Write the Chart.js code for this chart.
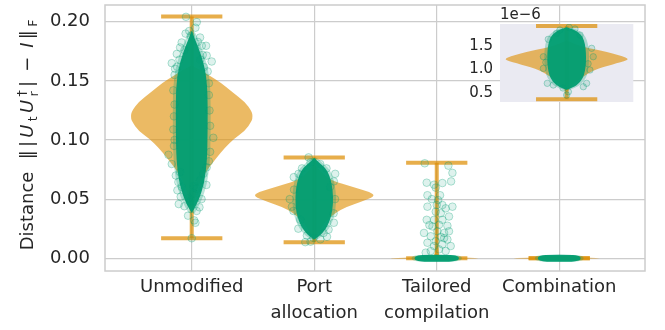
<!DOCTYPE html>
<html>
<head>
<meta charset="utf-8">
<script src="https://cdn.jsdelivr.net/npm/chart.js@4.4.1/dist/chart.umd.min.js"></script>
<style>
  html, body { margin: 0; padding: 0; background: #fff; }
  #wrap { position: relative; width: 665px; height: 330px; }
  #main { position: absolute; left: 0; top: 0; }
  #inset { position: absolute; left: 440px; top: 0; }
</style>
</head>
<body>
<div id="wrap">
  <canvas id="main" width="665" height="330"></canvas>
  <canvas id="inset" width="225" height="110"></canvas>
</div>
<script>
// categories and summary values
const categories = [["Unmodified"], ["Port", "allocation"], ["Tailored", "compilation"], ["Combination"]];
const whiskerLow = [0.0169, 0.0136, 0.0, 0.0];
const whiskerHigh = [0.2044, 0.0853, 0.0808, 0.0];
const yTicks = [0, 0.05, 0.1, 0.15, 0.2];

// violin outlines: [value, half width in category units]
const violinUnmodified = [[0.0367, 0], [0.045, 0.016], [0.0575, 0.041], [0.0675, 0.082], [0.0767, 0.139], [0.085, 0.204], [0.0933, 0.269], [0.1008, 0.343], [0.1075, 0.433], [0.1158, 0.49], [0.12, 0.498], [0.1242, 0.49], [0.1325, 0.433], [0.1408, 0.327], [0.1492, 0.229], [0.1533, 0.163], [0.1575, 0.098], [0.1633, 0]];
const violinPort = [[0.0133, 0], [0.0217, 0.035], [0.03, 0.08], [0.0383, 0.17], [0.0433, 0.26], [0.0475, 0.38], [0.0525, 0.498], [0.0558, 0.46], [0.06, 0.32], [0.0658, 0.14], [0.0717, 0.065], [0.0767, 0.025], [0.08, 0]];
const violinTailored = [[-0.0009, 0], [0, 0.5], [0.0009, 0.03], [0.005, 0.01], [0.03, 0.004], [0.08, 0]];
const violinCombination = [[-0.0008, 0], [0, 0.5], [0.0008, 0]];

// dense centre of the jittered points: [value, half width]
const coreUnmodified = [[0.0383, 0], [0.0433, 0.03], [0.0492, 0.055], [0.0558, 0.08], [0.0658, 0.105], [0.0825, 0.125], [0.1075, 0.13], [0.1367, 0.13], [0.1533, 0.12], [0.1658, 0.095], [0.1783, 0.055], [0.1842, 0.03], [0.1925, 0]];
const corePort = [[0.0158, 0], [0.0192, 0.05], [0.0242, 0.09], [0.0308, 0.125], [0.0408, 0.15], [0.0517, 0.155], [0.0617, 0.145], [0.07, 0.125], [0.0767, 0.09], [0.0808, 0.04], [0.085, 0]];
const coreTailored = [[-0.003, 0.1], [-0.0022, 0.17], [0, 0.185], [0.0022, 0.17], [0.003, 0.1]];
const coreCombination = [[-0.003, 0.1], [-0.0022, 0.165], [0, 0.178], [0.0022, 0.165], [0.003, 0.1]];

// loose points: [jitter offset, value]
const pointsUnmodified = [[-0.047, 0.2042], [0.041, 0.1997], [-0.02, 0.1922], [-0.008, 0.188], [0.068, 0.1867], [-0.082, 0.1825], [0.082, 0.1797], [-0.095, 0.1783], [0.117, 0.1797], [-0.122, 0.1728], [0.122, 0.1714], [-0.163, 0.165], [0.163, 0.1664], [-0.136, 0.1603], [0.1, 0.1617], [-0.15, 0.1089], [0.176, 0.1019], [-0.19, 0.0875], [-0.163, 0.0797], [0.122, 0.0769], [-0.095, 0.0728], [0.095, 0.0714], [-0.109, 0.0644], [0.068, 0.0658], [-0.082, 0.0603], [0.041, 0.0589], [-0.117, 0.0575], [0.014, 0.0547], [-0.027, 0.0506], [0.063, 0.0431], [-0.106, 0.0458], [-0.014, 0.0478], [0, 0.0169], [-0.14, 0.13], [0.145, 0.125], [-0.15, 0.142], [0.14, 0.148], [-0.145, 0.095], [0.15, 0.09], [0.03, 0.195], [-0.05, 0.19], [0.05, 0.183], [-0.06, 0.176], [0.09, 0.172], [-0.1, 0.168], [0.07, 0.168], [-0.12, 0.162], [0.13, 0.158], [-0.14, 0.155], [0.14, 0.138], [-0.145, 0.12], [0.15, 0.112], [-0.14, 0.1], [0.14, 0.082], [-0.13, 0.07], [0.12, 0.062], [-0.09, 0.052], [0.08, 0.05], [-0.06, 0.044], [0.04, 0.04], [-0.03, 0.036], [0.02, 0.032], [0.03, 0.03], [0.015, 0.061]];
const pointsPort = [[-0.046, 0.0853], [-0.167, 0.0686], [0.171, 0.0714], [-0.2, 0.05], [0.13, 0.0603], [-0.114, 0.0325], [0.117, 0.0242], [-0.06, 0.0192], [0.104, 0.0181], [-0.073, 0.0136], [-0.006, 0.0172], [0.076, 0.0214], [-0.128, 0.0714], [0.049, 0.0797], [-0.03, 0.0811], [0.158, 0.038], [-0.182, 0.0436], [0.17, 0.05], [-0.165, 0.058], [0.1, 0.076], [-0.1, 0.076], [0.16, 0.065], [-0.17, 0.04], [0.16, 0.03], [-0.13, 0.025], [0.05, 0.016], [-0.03, 0.014]];
const pointsTailored = [[-0.098, 0.0803], [0.095, 0.0783], [0.128, 0.0722], [-0.082, 0.0639], [0.046, 0.0636], [0.117, 0.065], [-0.022, 0.0622], [-0.008, 0.0597], [-0.076, 0.0533], [0.027, 0.0533], [0.011, 0.0492], [0.046, 0.045], [0.128, 0.0436], [-0.076, 0.0436], [0.073, 0.0422], [-0.008, 0.0394], [0.033, 0.0381], [0.1, 0.0353], [-0.082, 0.0325], [-0.022, 0.0325], [0.046, 0.0325], [0.019, 0.0283], [0.087, 0.0275], [-0.035, 0.0269], [-0.104, 0.0214], [0.005, 0.0228], [0.06, 0.0214], [0.1, 0.0228], [-0.049, 0.0186], [0.033, 0.0181], [-0.008, 0.0144], [0.087, 0.0158], [-0.076, 0.0131], [0.046, 0.0117], [-0.022, 0.0103], [0.114, 0.0103], [0.019, 0.0075], [-0.049, 0.0061], [0.073, 0.0061], [-0.09, 0.0047], [0.06, 0.017], [-0.06, 0.028], [0, 0.045], [-0.04, 0.05]];
const pointsCombination = [];

// inset (values in units of 1e-6)
const insetWhisker = [0.357, 1.93];
const insetTicks = [0.5, 1.0, 1.5];
const insetViolin = [[0.5, 0], [0.6, 0.025], [0.7, 0.06], [0.8, 0.11], [0.914, 0.177], [1.021, 0.259], [1.07, 0.33], [1.129, 0.408], [1.17, 0.47], [1.214, 0.504], [1.25, 0.485], [1.306, 0.422], [1.377, 0.327], [1.42, 0.24], [1.48, 0.13], [1.55, 0.06], [1.62, 0]];
const insetCore = [[0.56, 0], [0.62, 0.06], [0.7, 0.1], [0.8, 0.13], [0.95, 0.15], [1.15, 0.158], [1.35, 0.158], [1.55, 0.15], [1.7, 0.13], [1.78, 0.1], [1.85, 0.06], [1.9, 0]];
const insetPoints = [[-0.15, 1.643], [-0.19, 1.27], [0.217, 1.27], [0.204, 1.45], [-0.158, 0.7], [-0.109, 0.664], [0.163, 0.7], [0.136, 0.627], [0, 0.449], [-0.055, 1.842], [0.068, 1.864], [0.109, 1.735], [-0.082, 1.771], [0.014, 0.52], [-0.19, 1.02], [0.19, 0.985], [-0.17, 1.15], [0.175, 1.12], [0.02, 1.9], [-0.03, 0.6]];

const TEXT = "#262626";
const GRID = "#cccccc";
const VIOLIN = "rgba(222, 143, 5, 0.62)";
const WHISKER = "rgba(222, 143, 5, 0.72)";
const CORE = "rgba(2, 158, 115, 0.96)";
const HALO = "rgba(2, 158, 115, 0.28)";
const FONT = "DejaVu Sans";

function shapePath(ctx, xs, ys, center, profile, grow = 0) {
  // right side going up, left side coming back down
  const right = profile.map(([v, w]) => [xs.getPixelForValue(center + w) + grow, ys.getPixelForValue(v)]);
  const left = profile.slice().reverse().map(([v, w]) => [xs.getPixelForValue(center - w) - grow, ys.getPixelForValue(v)]);
  const pts = right.concat(left);
  ctx.beginPath();
  ctx.moveTo(pts[0][0], pts[0][1]);
  for (let i = 1; i < pts.length - 1; i++) {
    const mx = (pts[i][0] + pts[i + 1][0]) / 2;
    const my = (pts[i][1] + pts[i + 1][1]) / 2;
    ctx.quadraticCurveTo(pts[i][0], pts[i][1], mx, my);
  }
  ctx.lineTo(pts[pts.length - 1][0], pts[pts.length - 1][1]);
  ctx.closePath();
}

function drawGroups(chart, groups) {
  const { ctx, chartArea } = chart;
  const xs = chart.scales.x;
  const ys = chart.scales.y;
  ctx.save();
  ctx.beginPath();
  ctx.rect(chartArea.left, chartArea.top, chartArea.right - chartArea.left, chartArea.bottom - chartArea.top);
  ctx.clip();
  groups.forEach((g) => {
    ctx.fillStyle = VIOLIN;
    shapePath(ctx, xs, ys, g.center, g.violin);
    ctx.fill();
  });
  groups.forEach((g) => {
    const cx = xs.getPixelForValue(g.center);
    ctx.strokeStyle = WHISKER;
    ctx.lineWidth = 4;
    ctx.beginPath();
    ctx.moveTo(cx, ys.getPixelForValue(g.low));
    ctx.lineTo(cx, ys.getPixelForValue(g.high));
    ctx.stroke();
    [g.low, g.high].forEach((v) => {
      const y = ys.getPixelForValue(v);
      ctx.beginPath();
      ctx.moveTo(xs.getPixelForValue(g.center - 0.25), y);
      ctx.lineTo(xs.getPixelForValue(g.center + 0.25), y);
      ctx.stroke();
    });
  });
  groups.forEach((g) => {
    ctx.fillStyle = HALO;
    shapePath(ctx, xs, ys, g.center, g.core, 3);
    ctx.fill();
    ctx.fillStyle = CORE;
    shapePath(ctx, xs, ys, g.center, g.core);
    ctx.fill();
  });
  ctx.restore();
}

const mainGroups = categories.map((c, i) => ({
  center: i,
  low: whiskerLow[i],
  high: whiskerHigh[i],
  violin: [violinUnmodified, violinPort, violinTailored, violinCombination][i],
  core: [coreUnmodified, corePort, coreTailored, coreCombination][i]
}));
const mainPoints = [pointsUnmodified, pointsPort, pointsTailored, pointsCombination];

const violinLayer = {
  id: "violinLayer",
  beforeDatasetsDraw(chart, _args, opts) {
    drawGroups(chart, opts.groups);
  }
};

const frameLayer = {
  id: "frameLayer",
  afterDatasetsDraw(chart, _args, opts) {
    const { ctx, chartArea } = chart;
    if (!opts.color) return;
    ctx.save();
    ctx.strokeStyle = opts.color;
    ctx.lineWidth = 1.5;
    ctx.strokeRect(chartArea.left, chartArea.top, chartArea.right - chartArea.left, chartArea.bottom - chartArea.top);
    ctx.restore();
  }
};

const insetBackground = {
  id: "insetBackground",
  beforeDraw(chart) {
    const { ctx, chartArea } = chart;
    ctx.save();
    ctx.fillStyle = "#eaeaf2";
    ctx.fillRect(chartArea.left, chartArea.top, chartArea.right - chartArea.left, chartArea.bottom - chartArea.top);
    ctx.fillStyle = TEXT;
    ctx.font = `15px "${FONT}"`;
    ctx.textBaseline = "alphabetic";
    ctx.textAlign = "left";
    ctx.fillText("1e\u22126", chartArea.left, chartArea.top - 5);
    ctx.restore();
  }
};

const yTitle = {
  id: "yTitle",
  afterDraw(chart) {
    const { ctx } = chart;
    const big = 18, small = 12.5, gap = 3.3;
    const parts = [
      { t: "Distance", f: `${big}px "${FONT}"`, dy: 0 },
      { t: " ", f: `${big}px "${FONT}"`, dy: 0 },
      { t: "\u2016", f: `${big}px "${FONT}"`, dy: 0 },
      { t: "|", f: `${big}px "${FONT}"`, dy: 0 },
      { t: "U", f: `italic ${big}px "${FONT}"`, dy: 0 },
      { t: "t", f: `${small}px "${FONT}"`, dy: 4 },
      { t: "U", f: `italic ${big}px "${FONT}"`, dy: 0 },
      { t: "\u2020", f: `${small}px "${FONT}"`, dy: -7, sub: "r" },
      { t: "|", f: `${big}px "${FONT}"`, dy: 0 },
      { t: " \u2212 ", f: `${big}px "${FONT}"`, dy: 0 },
      { t: "I", f: `italic ${big}px "${FONT}"`, dy: 0 },
      { t: "\u2016", f: `${big}px "${FONT}"`, dy: 0 },
      { t: "F", f: `${small}px "${FONT}"`, dy: 4 }
    ];
    ctx.save();
    let total = 0;
    parts.forEach((p, i) => {
      ctx.font = p.f;
      p.w = ctx.measureText(p.t).width;
      if (p.sub) p.w = Math.max(p.w, ctx.measureText(p.sub).width);
      p.g = i === 0 ? 0 : gap;
      total += p.w + p.g;
    });
    ctx.translate(33, 135);
    ctx.rotate(-Math.PI / 2);
    ctx.fillStyle = TEXT;
    ctx.textBaseline = "alphabetic";
    ctx.textAlign = "left";
    let u = -total / 2;
    parts.forEach((p) => {
      u += p.g;
      ctx.font = p.f;
      ctx.fillText(p.t, u, p.dy);
      if (p.sub) ctx.fillText(p.sub, u, 5);
      u += p.w;
    });
    ctx.restore();
  }
};

function noPadding(axis) {
  axis.paddingTop = 0;
  axis.paddingBottom = 0;
  axis.paddingLeft = 0;
  axis.paddingRight = 0;
}

new Chart(document.getElementById("main"), {
  type: "scatter",
  data: {
    datasets: mainPoints.map((pts, i) => ({
      data: pts.map(([o, v]) => ({ x: i + o, y: v })),
      pointRadius: 3.8,
      pointBackgroundColor: "rgba(2, 158, 115, 0.13)",
      pointBorderColor: "rgba(2, 158, 115, 0.3)",
      pointBorderWidth: 1
    }))
  },
  plugins: [violinLayer, frameLayer, yTitle],
  options: {
    responsive: false,
    animation: false,
    devicePixelRatio: 1,
    layout: { padding: { top: 2, right: 20, left: 0, bottom: 0 } },
    plugins: {
      legend: { display: false },
      tooltip: { enabled: false },
      violinLayer: { groups: mainGroups },
      frameLayer: { color: GRID }
    },
    scales: {
      x: {
        type: "linear",
        min: -0.708,
        max: 3.7,
        afterBuildTicks: (axis) => { axis.ticks = categories.map((_c, i) => ({ value: i })); },
        afterFit: (axis) => { axis.height = 59; noPadding(axis); },
        ticks: {
          color: TEXT,
          padding: 3,
          maxRotation: 0,
          autoSkip: false,
          font: { family: FONT, size: 18, lineHeight: 1.45 },
          callback: (value) => categories[value]
        },
        grid: { color: GRID, lineWidth: 1.2, drawTicks: false },
        border: { display: false }
      },
      y: {
        min: -0.0108,
        max: 0.2142,
        afterBuildTicks: (axis) => { axis.ticks = yTicks.map((v) => ({ value: v })); },
        afterFit: (axis) => { axis.width = 105; noPadding(axis); },
        ticks: {
          color: TEXT,
          padding: 15,
          font: { family: FONT, size: 18 },
          callback: (value) => value.toFixed(2)
        },
        grid: { color: GRID, lineWidth: 1.2, drawTicks: false },
        border: { display: false }
      }
    }
  }
});

new Chart(document.getElementById("inset"), {
  type: "scatter",
  data: {
    datasets: [{
      data: insetPoints.map(([o, v]) => ({ x: o, y: v })),
      pointRadius: 3.2,
      pointBackgroundColor: "rgba(2, 158, 115, 0.14)",
      pointBorderColor: "rgba(2, 158, 115, 0.32)",
      pointBorderWidth: 1
    }]
  },
  plugins: [insetBackground, violinLayer],
  options: {
    responsive: false,
    animation: false,
    devicePixelRatio: 1,
    layout: { padding: { top: 24, right: 31.7, left: 0, bottom: 8 } },
    plugins: {
      legend: { display: false },
      tooltip: { enabled: false },
      violinLayer: {
        groups: [{ center: 0, low: insetWhisker[0], high: insetWhisker[1], violin: insetViolin, core: insetCore }]
      }
    },
    scales: {
      x: { type: "linear", min: -0.544, max: 0.544, display: false },
      y: {
        min: 0.3,
        max: 1.971,
        afterBuildTicks: (axis) => { axis.ticks = insetTicks.map((v) => ({ value: v })); },
        afterFit: (axis) => { axis.width = 60; noPadding(axis); },
        ticks: {
          color: TEXT,
          padding: 7,
          font: { family: FONT, size: 15 },
          callback: (value) => value.toFixed(1)
        },
        grid: { display: false, drawTicks: false },
        border: { display: false }
      }
    }
  }
});
</script>
</body>
</html>
